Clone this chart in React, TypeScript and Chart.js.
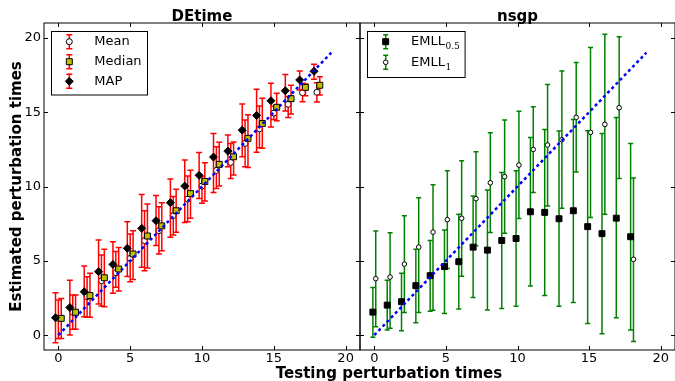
import React, { useEffect, useRef } from 'react';
import { Chart, registerables } from 'chart.js';
Chart.register(...registerables);

// ---------- data ----------
const testTimes = [0, 1, 2, 3, 4, 5, 6, 7, 8, 9, 10, 11, 12, 13, 14, 15, 16, 17, 18];
const xTickValues = [0, 5, 10, 15, 20];
const yTickValues = [0, 5, 10, 15, 20];
const idealLineX = [0, 19];
const idealLineY = [0, 19];

// DEtime panel
const deMeanValue = [1.13, 1.54, 2.59, 3.66, 4.2, 5.17, 6.36, 7.03, 8.04, 9.16, 10.03, 11.08, 11.62, 12.9, 13.88, 14.94, 15.53, 16.31, 16.34];
const deMeanHigh = [2.36, 2.7, 3.93, 5.39, 5.62, 6.8, 8.37, 8.64, 9.32, 10.71, 10.67, 12.68, 12.9, 14.48, 15.42, 15.4, 16.05, 16.94, 16.98];
const deMeanLow = [-0.22, 0.39, 1.2, 1.96, 3.22, 3.6, 4.33, 5.46, 6.74, 7.63, 8.87, 9.87, 10.54, 11.33, 12.61, 14.5, 14.65, 15.71, 15.69];

const deMedianValue = [1.13, 1.54, 2.66, 3.86, 4.45, 5.46, 6.67, 7.35, 8.37, 9.52, 10.34, 11.49, 12.0, 13.24, 14.24, 15.33, 15.91, 16.67, 16.81];
const deMedianHigh = [2.47, 2.7, 4.16, 5.77, 5.89, 7.03, 8.82, 8.91, 9.81, 11.1, 11.6, 12.97, 13.0, 14.82, 15.93, 16.27, 16.81, 16.9, 17.39];
const deMedianLow = [-0.22, 0.39, 1.2, 1.91, 2.97, 3.75, 4.51, 5.68, 6.93, 7.86, 9.03, 10.03, 10.78, 11.28, 12.57, 14.43, 14.88, 16.11, 16.16];

const deMapValue = [1.17, 1.86, 2.92, 4.27, 4.76, 5.84, 7.19, 7.7, 8.91, 10.03, 10.75, 11.98, 12.38, 13.79, 14.78, 15.77, 16.44, 17.17, 17.75];
const deMapHigh = [2.86, 3.7, 4.65, 6.4, 6.29, 7.63, 9.47, 9.4, 10.5, 11.78, 12.29, 13.57, 13.46, 15.55, 16.54, 16.95, 17.53, 17.77, 18.22];
const deMapLow = [-0.52, 0.01, 1.24, 2.09, 2.81, 3.94, 4.56, 6.03, 6.58, 7.57, 9.2, 9.6, 11.33, 12.0, 12.3, 14.0, 15.08, 16.49, 17.21];

// nsgp panel
const emllHalfValue = [1.55, 2.02, 2.25, 3.33, 4.0, 4.61, 4.94, 5.92, 5.72, 6.37, 6.5, 8.3, 8.26, 7.83, 8.37, 7.3, 6.83, 7.87, 6.62];
const emllHalfHigh = [3.21, 3.69, 4.16, 5.77, 6.37, 7.07, 8.14, 9.36, 9.76, 10.95, 11.06, 13.3, 13.84, 13.73, 14.51, 13.75, 13.57, 14.64, 12.9];
const emllHalfLow = [-0.15, 0.34, 0.3, 0.84, 1.6, 1.46, 1.76, 2.54, 1.69, 1.8, 1.95, 3.3, 2.67, 1.95, 2.2, 0.79, 0.09, 1.17, 0.34];

const emllOneValue = [3.8, 3.91, 4.78, 5.92, 6.93, 7.77, 7.86, 9.18, 10.25, 10.66, 11.44, 12.49, 12.79, 13.15, 14.65, 13.64, 14.18, 15.3, 5.1];
const emllOneHigh = [7.0, 6.89, 8.04, 9.25, 10.12, 11.06, 11.73, 12.34, 13.62, 14.47, 15.07, 15.37, 16.87, 17.77, 18.35, 19.36, 20.24, 20.08, 10.57];
const emllOneLow = [0.57, 0.46, 1.53, 1.53, 1.67, 4.49, 3.97, 6.02, 6.91, 6.85, 7.85, 9.6, 8.69, 8.53, 10.97, 7.92, 8.13, 10.54, -0.42];

// ---------- styling ----------
const FONT = "'DejaVu Sans', sans-serif";
const RED = '#ff0000';
const GREEN = '#008000';
const YELLOW = '#bfbf00';
const BLUE = '#0000ff';

type MarkerKind = 'circle' | 'square' | 'diamond';

function drawMarker(ctx: CanvasRenderingContext2D, kind: MarkerKind, x: number, y: number, size: number, fill: string) {
  ctx.beginPath();
  if (kind === 'circle') {
    ctx.arc(x, y, size, 0, Math.PI * 2);
  } else if (kind === 'square') {
    ctx.rect(x - size, y - size, size * 2, size * 2);
  } else {
    ctx.moveTo(x, y - size);
    ctx.lineTo(x + size, y);
    ctx.lineTo(x, y + size);
    ctx.lineTo(x - size, y);
    ctx.closePath();
  }
  ctx.fillStyle = fill;
  ctx.fill();
  ctx.strokeStyle = '#000';
  ctx.lineWidth = 1;
  ctx.stroke();
}

function drawErrorBar(ctx: CanvasRenderingContext2D, x: number, y1: number, y2: number, cap: number) {
  ctx.beginPath();
  ctx.moveTo(x, y1);
  ctx.lineTo(x, y2);
  ctx.moveTo(x - cap, y1);
  ctx.lineTo(x + cap, y1);
  ctx.moveTo(x - cap, y2);
  ctx.lineTo(x + cap, y2);
  ctx.stroke();
}

const decorPlugin = {
  id: 'decor',
  beforeDatasetDraw(chart: any, args: any) {
    const ds: any = chart.data.datasets[args.index];
    if (!ds.errLow) return;
    const { ctx } = chart;
    const xs = chart.scales.x;
    const ys = chart.scales.y;
    ctx.save();
    ctx.strokeStyle = ds.errColor;
    ctx.lineWidth = 1.5;
    ds.data.forEach((p: any, i: number) => {
      const px = xs.getPixelForValue(p.x);
      drawErrorBar(ctx, px, ys.getPixelForValue(ds.errLow[i]), ys.getPixelForValue(ds.errHigh[i]), ds.errCap);
    });
    ctx.restore();
  },
  afterDraw(chart: any, _args: any, opts: any) {
    const { ctx, chartArea: a } = chart;
    const xs = chart.scales.x;
    const ys = chart.scales.y;
    ctx.save();
    // spines
    ctx.strokeStyle = '#000';
    ctx.lineWidth = 1;
    ctx.strokeRect(a.left, a.top, a.right - a.left, a.bottom - a.top);
    // inward ticks
    const tl = 4;
    ctx.beginPath();
    xTickValues.forEach((v) => {
      const px = Math.round(xs.getPixelForValue(v)) + 0.5;
      ctx.moveTo(px, a.bottom);
      ctx.lineTo(px, a.bottom - tl);
      ctx.moveTo(px, a.top);
      ctx.lineTo(px, a.top + tl);
    });
    yTickValues.forEach((v) => {
      const py = Math.round(ys.getPixelForValue(v)) + 0.5;
      ctx.moveTo(a.left, py);
      ctx.lineTo(a.left + tl, py);
      ctx.moveTo(a.right, py);
      ctx.lineTo(a.right - tl, py);
    });
    ctx.stroke();
    // title
    ctx.fillStyle = '#000';
    ctx.font = `bold 15px ${FONT}`;
    ctx.textAlign = 'center';
    ctx.textBaseline = 'alphabetic';
    ctx.fillText(opts.title, (a.left + a.right) / 2, a.top - 2.5);
    // legend
    const lg = opts.legend;
    const bx = a.left + lg.x;
    const by = a.top + lg.y;
    ctx.fillStyle = '#fff';
    ctx.fillRect(bx, by, lg.w, lg.h);
    ctx.strokeStyle = '#000';
    ctx.lineWidth = 1;
    ctx.strokeRect(Math.round(bx) + 0.5, Math.round(by) + 0.5, lg.w, lg.h);
    lg.items.forEach((it: any, i: number) => {
      const cy = by + lg.rows[i];
      const mx = bx + lg.markerX;
      ctx.strokeStyle = it.bar;
      ctx.lineWidth = 1.5;
      drawErrorBar(ctx, mx, cy - 7, cy + 7, it.cap);
      drawMarker(ctx, it.marker, mx, cy, it.size, it.fill);
      ctx.fillStyle = '#000';
      ctx.font = `13px ${FONT}`;
      ctx.textAlign = 'left';
      ctx.textBaseline = 'middle';
      const tx = bx + lg.textX;
      ctx.fillText(it.text, tx, cy);
      if (it.sub) {
        const w = ctx.measureText(it.text).width;
        ctx.font = `9px 'DejaVu Serif', serif`;
        ctx.fillText(it.sub, tx + w + 0.5, cy + 5);
      }
    });
    ctx.restore();
  },
};

function makeScales(showY: boolean) {
  const tickFont = { family: FONT, size: 13 };
  return {
    x: {
      type: 'linear',
      min: -1,
      max: 21,
      grid: { display: false, drawTicks: false },
      border: { display: false },
      ticks: {
        stepSize: 5,
        includeBounds: false,
        padding: 1,
        color: '#000',
        font: tickFont,
        maxRotation: 0,
        autoSkip: false,
      },
      afterFit: (s: any) => {
        s.height = 31;
        s.paddingLeft = 0;
        s.paddingRight = 0;
      },
    },
    y: {
      type: 'linear',
      display: showY,
      min: -1,
      max: 21,
      grid: { display: false, drawTicks: false },
      border: { display: false },
      ticks: {
        stepSize: 5,
        includeBounds: false,
        padding: 3,
        color: '#000',
        font: tickFont,
      },
      title: {
        display: true,
        text: 'Estimated perturbation times',
        color: '#000',
        font: { family: FONT, size: 15, weight: 'bold' },
        padding: { top: 8, bottom: 0 },
      },
      afterFit: (s: any) => {
        s.width = showY ? 44 : 0;
        s.paddingTop = 0;
        s.paddingBottom = 0;
      },
    },
  };
}

function pts(values: number[], dodge: number) {
  return testTimes.map((t, i) => ({ x: t + dodge, y: values[i] }));
}

function idealDataset() {
  return {
    label: 'ideal',
    data: idealLineX.map((x, i) => ({ x, y: idealLineY[i] })),
    showLine: true,
    pointRadius: 0,
    borderColor: BLUE,
    borderWidth: 2.5,
    borderDash: [3, 3],
    order: 0,
  };
}

function leftConfig(): any {
  return {
    type: 'scatter',
    data: {
      datasets: [
        idealDataset(),
        {
          label: 'MAP',
          data: pts(deMapValue, -0.2),
          errLow: deMapLow,
          errHigh: deMapHigh,
          errColor: RED,
          errCap: 3,
          pointStyle: 'rectRot',
          pointRadius: 4,
          backgroundColor: '#000',
          borderColor: '#000',
          borderWidth: 1,
          order: 1,
        },
        {
          label: 'Median',
          data: pts(deMedianValue, 0.2),
          errLow: deMedianLow,
          errHigh: deMedianHigh,
          errColor: RED,
          errCap: 3,
          pointStyle: 'rect',
          pointRadius: 4.2,
          backgroundColor: YELLOW,
          borderColor: '#000',
          borderWidth: 1,
          order: 2,
        },
        {
          label: 'Mean',
          data: pts(deMeanValue, 0),
          errLow: deMeanLow,
          errHigh: deMeanHigh,
          errColor: RED,
          errCap: 3,
          pointStyle: 'circle',
          pointRadius: 3,
          backgroundColor: '#fff',
          borderColor: '#000',
          borderWidth: 1,
          order: 3,
        },
      ],
    },
    options: {
      animation: false,
      responsive: false,
      devicePixelRatio: 1,
      layout: { autoPadding: false, padding: { top: 23, right: 2, left: 0, bottom: 0 } },
      scales: makeScales(true),
      plugins: {
        legend: { display: false },
        tooltip: { enabled: false },
        decor: {
          title: 'DEtime',
          legend: {
            x: 6.7,
            y: 7.7,
            w: 96,
            h: 63.5,
            markerX: 18.6,
            textX: 43.6,
            rows: [11, 31, 50.6],
            items: [
              { text: 'Mean', marker: 'circle', size: 3, fill: '#fff', bar: RED, cap: 3 },
              { text: 'Median', marker: 'square', size: 3, fill: YELLOW, bar: RED, cap: 3 },
              { text: 'MAP', marker: 'diamond', size: 4, fill: '#000', bar: RED, cap: 3 },
            ],
          },
        },
      },
    },
    plugins: [decorPlugin],
  };
}

function rightConfig(): any {
  return {
    type: 'scatter',
    data: {
      datasets: [
        idealDataset(),
        {
          label: 'EMLL0.5',
          data: pts(emllHalfValue, -0.1),
          errLow: emllHalfLow,
          errHigh: emllHalfHigh,
          errColor: GREEN,
          errCap: 2.5,
          pointStyle: 'rect',
          pointRadius: 4.2,
          backgroundColor: '#000',
          borderColor: '#000',
          borderWidth: 1,
          order: 1,
        },
        {
          label: 'EMLL1',
          data: pts(emllOneValue, 0.1),
          errLow: emllOneLow,
          errHigh: emllOneHigh,
          errColor: GREEN,
          errCap: 2.5,
          pointStyle: 'circle',
          pointRadius: 2.3,
          backgroundColor: '#fff',
          borderColor: '#000',
          borderWidth: 1,
          order: 2,
        },
      ],
    },
    options: {
      animation: false,
      responsive: false,
      devicePixelRatio: 1,
      layout: { autoPadding: false, padding: { top: 23, right: 0, left: 2, bottom: 0 } },
      scales: makeScales(false),
      plugins: {
        legend: { display: false },
        tooltip: { enabled: false },
        decor: {
          title: 'nsgp',
          legend: {
            x: 6.7,
            y: 7.7,
            w: 97.6,
            h: 46,
            markerX: 19,
            textX: 44.3,
            rows: [11, 31.6],
            items: [
              { text: 'EMLL', sub: '0.5', marker: 'square', size: 3, fill: '#000', bar: GREEN, cap: 2.5 },
              { text: 'EMLL', sub: '1', marker: 'circle', size: 2.3, fill: '#fff', bar: GREEN, cap: 2.5 },
            ],
          },
        },
      },
    },
    plugins: [decorPlugin],
  };
}

export default function App() {
  const leftRef = useRef<HTMLCanvasElement | null>(null);
  const rightRef = useRef<HTMLCanvasElement | null>(null);

  useEffect(() => {
    const c1 = new Chart(leftRef.current as HTMLCanvasElement, leftConfig());
    const c2 = new Chart(rightRef.current as HTMLCanvasElement, rightConfig());
    return () => {
      c1.destroy();
      c2.destroy();
    };
  }, []);

  return (
    <div style={{ position: 'fixed', left: 0, top: 0, width: 675, height: 381, background: '#fff', overflow: 'hidden' }}>
      <canvas ref={leftRef} width={362} height={381} style={{ position: 'absolute', left: 0, top: 0 }} />
      <canvas ref={rightRef} width={317} height={381} style={{ position: 'absolute', left: 358, top: 0 }} />
      <div
        style={{
          position: 'absolute',
          left: 189,
          top: 366,
          width: 400,
          textAlign: 'center',
          fontFamily: FONT,
          fontWeight: 'bold',
          fontSize: 15,
          lineHeight: '15px',
          color: '#000',
        }}
      >
        Testing perturbation times
      </div>
    </div>
  );
}
